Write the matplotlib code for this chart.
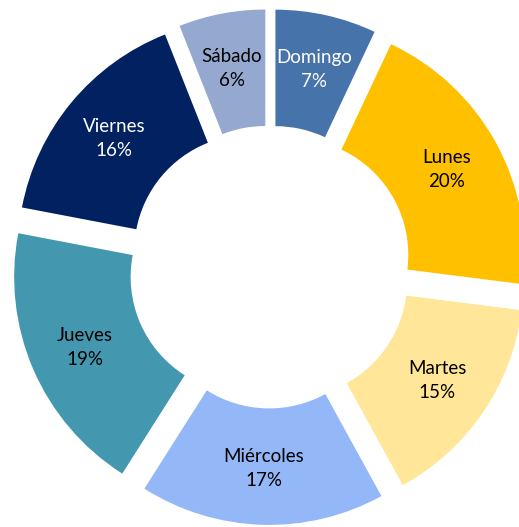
import numpy as np
import matplotlib
matplotlib.use("Agg")
import matplotlib.pyplot as plt

dias = ["Domingo", "Lunes", "Martes", "Miércoles", "Jueves", "Viernes", "Sábado"]
valores = [7, 20, 15, 17, 19, 16, 6]
colores = ["#4673A9", "#FFC000", "#FFE699", "#94B7F8", "#4398AF", "#022160", "#95A9D0"]
color_texto = ["white", "black", "black", "black", "black", "white", "black"]

plt.rcParams['font.family'] = ['Lato', 'DejaVu Sans']

fig = plt.figure(figsize=(5.19, 5.27), dpi=100)
ax = fig.add_axes([0, 0, 1, 1])

explode_frac = 0.107
wedges, _ = ax.pie(valores, colors=colores, startangle=90, counterclock=False,
                   radius=1.0, explode=[explode_frac] * len(valores),
                   wedgeprops=dict(width=0.5, edgecolor='none'))

total = sum(valores)
for w, d, v, tc in zip(wedges, dias, valores, color_texto):
    ang = np.deg2rad((w.theta1 + w.theta2) / 2)
    dist = 0.76 + explode_frac
    x = dist * np.cos(ang)
    y = dist * np.sin(ang)
    ax.text(x, y, f"{d}\n{round(v / total * 100)}%", ha='center', va='center',
            color=tc, fontsize=13.5, linespacing=1.5)

ax.set_aspect('auto')
ax.set_xlim(-1.159, 1.069)
ax.set_ylim(-1.116, 1.146)
ax.axis('off')
fig.savefig("out.png", dpi=100)
